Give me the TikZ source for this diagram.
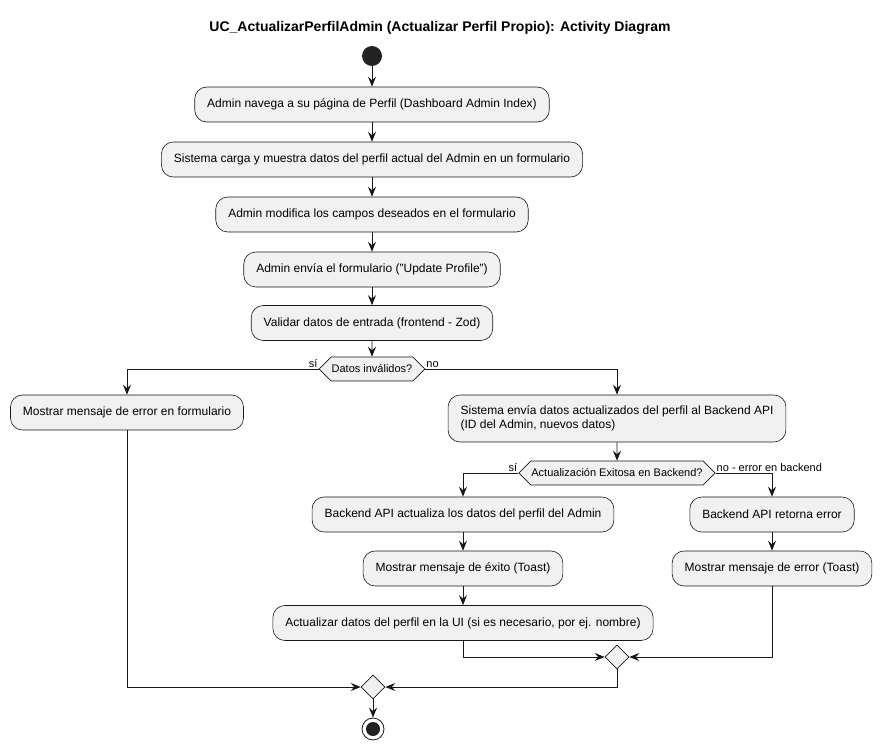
\documentclass[tikz,border=0pt]{standalone}
\usepackage{fontspec}
\setmainfont{Liberation Sans}
\usetikzlibrary{arrows.meta,shapes.geometric,shapes.symbols}
\definecolor{boxfill}{HTML}{F1F1F1}
\definecolor{ink}{HTML}{181818}
\definecolor{dot}{HTML}{222222}
\begin{document}
\begin{tikzpicture}[x=1pt,y=-1pt,
  act/.style={draw=ink, fill=boxfill, rounded corners=12pt, minimum height=35pt,
    inner xsep=12.5pt, font=\fontsize{12}{14.5}\selectfont, line width=0.6pt},
  choice/.style={draw=ink, fill=boxfill, signal, signal to=east and west,
    signal pointer angle=90, minimum height=24pt, inner xsep=0.5pt, inner ysep=2pt,
    font=\fontsize{11}{13}\selectfont, line width=0.6pt},
  merge/.style={draw=ink, fill=boxfill, diamond, minimum size=24pt, inner sep=0pt, line width=0.6pt},
  flow/.style={draw=ink, line width=0.8pt, -{Stealth[length=10pt,width=8pt,inset=3.5pt]}},
  lbl/.style={font=\fontsize{11}{13}\selectfont, inner sep=1pt},
]
\useasboundingbox (0,0) rectangle (881,751);

% title
\node[font=\bfseries\fontsize{14}{16}\selectfont] (title) at (440,28) {UC\_ActualizarPerfilAdmin (Actualizar Perfil Propio): Activity Diagram};

% start
\node[circle, fill=dot, minimum size=20pt, inner sep=0pt] (start) at (372,56) {};

% main sequence
\node[act] (b1) at (372,104.5) {Admin navega a su página de Perfil (Dashboard Admin Index)};
\node[act] (b2) at (372,159.5) {Sistema carga y muestra datos del perfil actual del Admin en un formulario};
\node[act] (b3) at (372,214.5) {Admin modifica los campos deseados en el formulario};
\node[act] (b4) at (372,269.5) {Admin envía el formulario ("Update Profile")};
\node[act] (b5) at (372,323) {Validar datos de entrada (frontend - Zod)};
\node[choice] (d1) at (372,369) {Datos inválidos?};

% invalid branch
\node[act] (e1) at (127,412.5) {Mostrar mensaje de error en formulario};

% valid branch
\node[act, align=left, minimum height=47pt] (s1) at (617,418.5) {Sistema envía datos actualizados del perfil al Backend API\\(ID del Admin, nuevos datos)};
\node[choice] (d2) at (617,473) {Actualización Exitosa en Backend?};

\node[act] (ok1) at (463,514.5) {Backend API actualiza los datos del perfil del Admin};
\node[act] (ok2) at (463,568.5) {Mostrar mensaje de éxito (Toast)};
\node[act] (ok3) at (463,623) {Actualizar datos del perfil en la UI (si es necesario, por ej. nombre)};

\node[act] (er1) at (772,514.5) {Backend API retorna error};
\node[act] (er2) at (772,568.5) {Mostrar mensaje de error (Toast)};

% merges and end
\node[merge] (m2) at (617,657) {};
\node[merge] (m1) at (373,687) {};
\node[circle, draw=ink, fill=white, line width=0.8pt, minimum size=22pt, inner sep=0pt] (stop) at (373,729) {};
\node[circle, fill=dot, minimum size=14pt, inner sep=0pt] (stopdot) at (stop) {};

% connectors
\draw[flow] (start) -- (b1);
\draw[flow] (b1) -- (b2);
\draw[flow] (b2) -- (b3);
\draw[flow] (b3) -- (b4);
\draw[flow] (b4) -- (b5);
\draw[flow] (b5) -- (d1);

\draw[flow] (d1.west) -| (e1.north);
\node[lbl, anchor=south east] (lsi1) at (d1.west) {sí};
\draw[flow] (d1.east) -| (s1.north);
\node[lbl, anchor=south west] (lno1) at (d1.east) {no};

\draw[flow] (s1) -- (d2);
\draw[flow] (d2.west) -| (ok1.north);
\node[lbl, anchor=south east] (lsi2) at (d2.west) {sí};
\draw[flow] (d2.east) -| (er1.north);
\node[lbl, anchor=south west] (lno2) at (d2.east) {no - error en backend};

\draw[flow] (ok1) -- (ok2);
\draw[flow] (ok2) -- (ok3);
\draw[flow] (er1) -- (er2);

\draw[flow] (ok3.south) |- (m2.west);
\draw[flow] (er2.south) |- (m2.east);
\draw[flow] (m2.south) |- (m1.east);
\draw[flow] (e1.south) |- (m1.west);
\draw[flow] (m1) -- (stop);
\end{tikzpicture}
\end{document}
